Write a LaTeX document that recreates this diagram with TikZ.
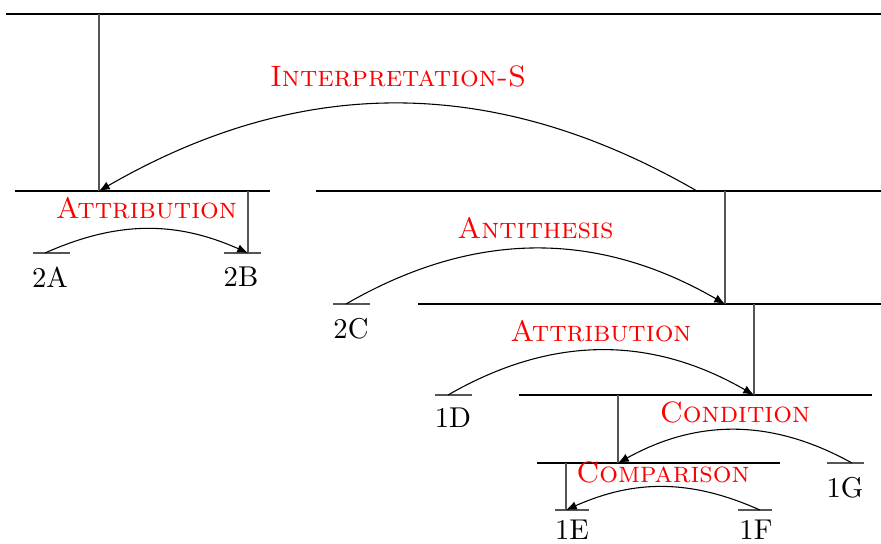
\documentclass[tikz,border=0pt]{standalone}
\usepackage{xcolor}
\usepackage{tikz}
\usetikzlibrary{arrows.meta,positioning}
\definecolor{relred}{HTML}{FF0000}
\definecolor{stemgray}{HTML}{555555}

\begin{document}
\begin{tikzpicture}[
    x=0.37pt, y=-0.37pt,
    span/.style={draw=black, line width=0.45pt},
    stem/.style={draw=stemgray, line width=0.45pt},
    leafline/.style={draw=stemgray, line width=0.45pt},
    leaf/.style={inner sep=0pt, font=\fontsize{10.6pt}{13pt}\selectfont},
    rel/.style={text=relred, font=\fontsize{10.9pt}{13pt}\selectfont\scshape, above=0pt},
    arrow/.style={-{Latex[length=4pt, width=3.2pt]}, draw=black, line width=0.4pt}
  ]
    \useasboundingbox (0,0) rectangle (881,543);

    \coordinate (root-w) at (6,14);    \coordinate (root-e) at (881,14);
    \coordinate (att-w) at (15,191);   \coordinate (att-e) at (270,191);
    \coordinate (ant-w) at (316,191);  \coordinate (ant-e) at (881,191);
    \coordinate (atd-w) at (418,304);  \coordinate (atd-e) at (881,304);
    \coordinate (cnd-w) at (519,395);  \coordinate (cnd-e) at (872,395);
    \coordinate (cmp-w) at (537,463);  \coordinate (cmp-e) at (780,463);

    \coordinate (root-n) at (99,14);   \coordinate (att-n) at (99,191);
    \coordinate (att-r) at (248,191);  \coordinate (ant-s) at (697,191);
    \coordinate (ant-n) at (725,191);  \coordinate (atd-top) at (725,304);
    \coordinate (atd-n) at (754,304);  \coordinate (cnd-top) at (754,395);
    \coordinate (cnd-n) at (618,395);  \coordinate (cmp-top) at (618,463);
    \coordinate (cmp-n) at (566,463);

    \node[leaf] (e2A) at (50,277) {2A};
    \node[leaf] (e2B) at (241,277) {2B};
    \node[leaf] (e2C) at (351,329) {2C};
    \node[leaf] (e1D) at (453,418) {1D};
    \node[leaf] (e1G) at (845,488) {1G};
    \node[leaf] (e1E) at (572,530) {1E};
    \node[leaf] (e1F) at (756,530) {1F};

    \coordinate (e2A-w) at (33,253);   \coordinate (e2A-e) at (70,253);   \coordinate (e2A-n) at (45,253);
    \coordinate (e2B-w) at (224,253);  \coordinate (e2B-e) at (261,253);  \coordinate (e2B-n) at (248,253);
    \coordinate (e2C-w) at (333,304);  \coordinate (e2C-e) at (370,304);  \coordinate (e2C-n) at (346,304);
    \coordinate (e1D-w) at (435,395);  \coordinate (e1D-e) at (472,395);  \coordinate (e1D-n) at (448,395);
    \coordinate (e1G-w) at (827,463);  \coordinate (e1G-e) at (864,463);  \coordinate (e1G-n) at (852,463);
    \coordinate (e1E-w) at (555,510);  \coordinate (e1E-e) at (589,510);  \coordinate (e1E-n) at (566,510);
    \coordinate (e1F-w) at (738,510);  \coordinate (e1F-e) at (772,510);  \coordinate (e1F-n) at (760,510);

    \path[span] (root-w) -- (root-e);
    \path[span] (att-w) -- (att-e);
    \path[span] (ant-w) -- (ant-e);
    \path[span] (atd-w) -- (atd-e);
    \path[span] (cnd-w) -- (cnd-e);
    \path[span] (cmp-w) -- (cmp-e);
    \foreach \e in {e2A,e2B,e2C,e1D,e1G,e1E,e1F}
      \path[leafline] (\e-w) -- (\e-e);

    \path[stem] (root-n) -- (att-n);
    \path[stem] (att-r) -- (e2B-n);
    \path[stem] (ant-n) -- (atd-top);
    \path[stem] (atd-n) -- (cnd-top);
    \path[stem] (cnd-n) -- (cmp-top);
    \path[stem] (cmp-n) -- (e1E-n);

    \path[arrow] (ant-s) to[bend right=30] node[rel, midway, above=2.6pt] {Interpretation-S} (att-n);
    \path[arrow] (e2A-n) to[bend left=24] node[rel, midway] {Attribution} (e2B-n);
    \path[arrow] (e2C-n) to[bend left=30] node[rel, midway] {Antithesis} (atd-top);
    \path[arrow] (e1D-n) to[bend left=30] node[rel, midway, above=-0.6pt] {Attribution} (cnd-top);
    \path[arrow] (e1G-n) to[bend right=29] node[rel, midway, above=-1pt] {Condition} (cmp-top);
    \path[arrow] (e1F-n) to[bend right=24] node[rel, midway, above=-2pt] {Comparison} (e1E-n);
  \end{tikzpicture}
\end{document}
